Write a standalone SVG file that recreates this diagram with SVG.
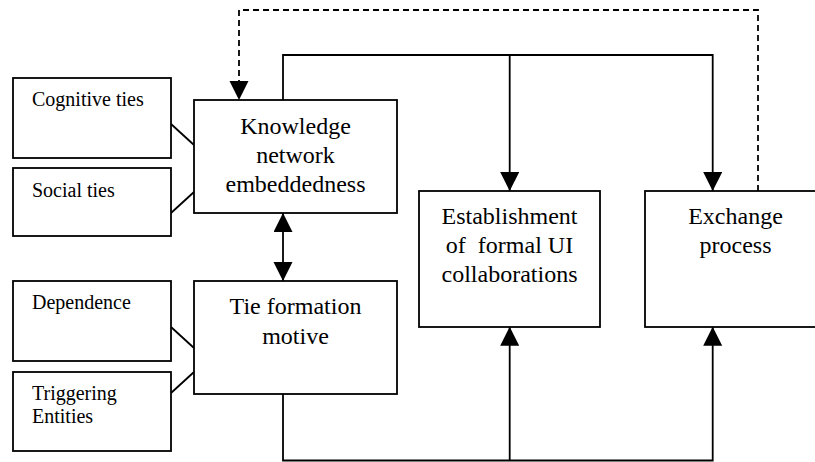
<svg xmlns="http://www.w3.org/2000/svg" width="815" height="462" viewBox="0 0 815 462">
  <style>
    .box { fill: #fff; stroke: #000; stroke-width: 1.8; }
    .line { fill: none; stroke: #000; stroke-width: 1.8; }
    .dash { stroke-dasharray: 6 4; }
    .small { font-family: "Liberation Serif", "Times New Roman", serif; font-size: 20px; fill: #000; }
    .big { font-family: "Liberation Serif", "Times New Roman", serif; font-size: 24px; fill: #000; text-anchor: middle; }
  </style>
  <defs>
    <marker id="arrow" markerUnits="userSpaceOnUse" markerWidth="20" markerHeight="20" refX="19" refY="9.5" orient="auto-start-reverse">
      <path d="M0,0 L19,9.5 L0,19 Z" fill="#000"/>
    </marker>
  </defs>

  <rect width="815" height="462" fill="#fff"/>

  <!-- connectors -->
  <g id="connectors">
    <!-- feedback from exchange process back to embeddedness -->
    <path class="line dash" d="M758,191 V10 H239 V100" marker-end="url(#arrow)"/>
    <!-- embeddedness to outcomes -->
    <path class="line" d="M283,100 V55 H712.7 V191" marker-end="url(#arrow)"/>
    <path class="line" d="M509.7,55 V191" marker-end="url(#arrow)"/>
    <!-- two-way link between embeddedness and motive -->
    <path class="line" d="M283,213 V281" marker-start="url(#arrow)" marker-end="url(#arrow)"/>
    <!-- motive to outcomes -->
    <path class="line" d="M283,394 V460.5 H712.7 V326.7" marker-end="url(#arrow)"/>
    <path class="line" d="M509.7,460.5 V326.7" marker-end="url(#arrow)"/>
    <!-- sub-factor links -->
    <line class="line" x1="171" y1="124" x2="194" y2="145"/>
    <line class="line" x1="171" y1="213" x2="194" y2="192"/>
    <line class="line" x1="171" y1="327" x2="194" y2="348"/>
    <line class="line" x1="171" y1="393" x2="194" y2="372"/>
  </g>

  <g id="cognitive-ties">
    <rect class="box" x="13" y="78" width="158" height="80"/>
    <text class="small" x="32" y="106">Cognitive ties</text>
  </g>

  <g id="social-ties">
    <rect class="box" x="13" y="168" width="158" height="68"/>
    <text class="small" x="32" y="197">Social ties</text>
  </g>

  <g id="dependence">
    <rect class="box" x="13" y="281" width="158" height="80"/>
    <text class="small" x="32" y="309">Dependence</text>
  </g>

  <g id="triggering-entities">
    <rect class="box" x="13" y="372" width="158" height="79"/>
    <text class="small" x="32" y="400">Triggering</text>
    <text class="small" x="32" y="423">Entities</text>
  </g>

  <g id="knowledge-network-embeddedness">
    <rect class="box" x="194" y="100" width="203" height="113"/>
    <text class="big" x="295.5" y="134">Knowledge</text>
    <text class="big" x="295.5" y="163">network</text>
    <text class="big" x="295.5" y="192">embeddedness</text>
  </g>

  <g id="tie-formation-motive">
    <rect class="box" x="194" y="281" width="203" height="113"/>
    <text class="big" x="295.5" y="314">Tie formation</text>
    <text class="big" x="295.5" y="344">motive</text>
  </g>

  <g id="formal-ui-collaborations">
    <rect class="box" x="419" y="191" width="181" height="136"/>
    <text class="big" x="509.5" y="224">Establishment</text>
    <text class="big" x="509.5" y="253" xml:space="preserve">of  formal UI</text>
    <text class="big" x="509.5" y="282">collaborations</text>
  </g>

  <g id="exchange-process">
    <rect class="box" x="645" y="191" width="181" height="136"/>
    <text class="big" x="735.5" y="224">Exchange</text>
    <text class="big" x="735.5" y="253">process</text>
  </g>
</svg>
